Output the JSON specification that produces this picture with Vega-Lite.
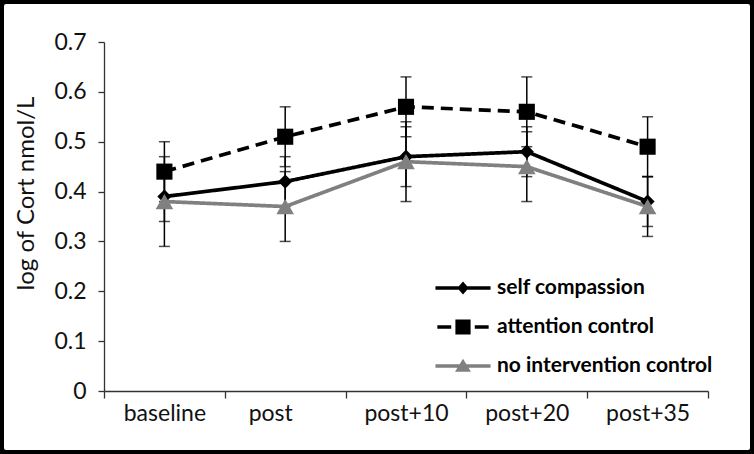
{
  "$schema": "https://vega.github.io/schema/vega-lite/v6.json",
  "width": 754,
  "height": 454,
  "padding": 0,
  "autosize": {"type": "none"},
  "background": "white",
  "config": {
    "view": {"stroke": "black", "strokeWidth": 8, "cornerRadius": 6, "fill": "white"},
    "font": "Lato",
    "axisX": {
      "offset": -63,
      "tickBand": "extent",
      "tickSize": 7,
      "tickWidth": 1.3,
      "tickColor": "#333333",
      "domainColor": "#333333",
      "domainWidth": 1.3,
      "labelFontSize": 23,
      "labelColor": "#111111",
      "labelPadding": 4,
      "labelAngle": 0,
      "grid": false,
      "title": null
    },
    "axisY": {
      "offset": -104,
      "tickSize": 6,
      "tickWidth": 1.3,
      "tickColor": "#333333",
      "domainColor": "#333333",
      "domainWidth": 1.3,
      "labelFontSize": 23,
      "labelColor": "#111111",
      "labelPadding": 12,
      "grid": false,
      "titleFontSize": 24,
      "titleFontWeight": "normal",
      "titleColor": "#111111",
      "titlePadding": 15
    },
    "legend": {
      "orient": "none",
      "legendX": 444,
      "legendY": 269,
      "padding": 0,
      "rowPadding": 10,
      "symbolSize": 1444,
      "symbolStrokeWidth": 0,
      "symbolOpacity": 1,
      "labelFontSize": 21,
      "labelFontWeight": "bold",
      "labelColor": "black",
      "labelOffset": 15,
      "labelLimit": 400
    }
  },
  "data": {
    "values": [
      {"series": "self compassion", "time": "baseline", "mean": 0.39, "low": 0.34, "high": 0.44},
      {"series": "self compassion", "time": "post", "mean": 0.42, "low": 0.37, "high": 0.47},
      {"series": "self compassion", "time": "post+10", "mean": 0.47, "low": 0.41, "high": 0.53},
      {"series": "self compassion", "time": "post+20", "mean": 0.48, "low": 0.43, "high": 0.53},
      {"series": "self compassion", "time": "post+35", "mean": 0.38, "low": 0.33, "high": 0.43},
      {"series": "attention control", "time": "baseline", "mean": 0.44, "low": 0.38, "high": 0.50},
      {"series": "attention control", "time": "post", "mean": 0.51, "low": 0.45, "high": 0.57},
      {"series": "attention control", "time": "post+10", "mean": 0.57, "low": 0.51, "high": 0.63},
      {"series": "attention control", "time": "post+20", "mean": 0.56, "low": 0.49, "high": 0.63},
      {"series": "attention control", "time": "post+35", "mean": 0.49, "low": 0.43, "high": 0.55},
      {"series": "no intervention control", "time": "baseline", "mean": 0.38, "low": 0.29, "high": 0.47},
      {"series": "no intervention control", "time": "post", "mean": 0.37, "low": 0.30, "high": 0.44},
      {"series": "no intervention control", "time": "post+10", "mean": 0.46, "low": 0.38, "high": 0.54},
      {"series": "no intervention control", "time": "post+20", "mean": 0.45, "low": 0.38, "high": 0.52},
      {"series": "no intervention control", "time": "post+35", "mean": 0.37, "low": 0.31, "high": 0.43}
    ]
  },
  "encoding": {
    "x": {
      "field": "time",
      "type": "nominal",
      "sort": ["baseline", "post", "post+10", "post+20", "post+35"],
      "scale": {"type": "band", "range": [104, 708], "paddingInner": 0, "paddingOuter": 0},
      "axis": {"labelOffset": {"condition": {"test": "datum.value == 'post'", "value": -15}, "value": 0}},
      "title": null
    }
  },
  "layer": [
    {
      "mark": {"type": "rule", "color": "black", "strokeWidth": 1.5},
      "encoding": {
        "y": {
          "field": "low", "type": "quantitative",
          "scale": {"domain": [0, 0.7], "range": [391, 42], "nice": false, "zero": false},
          "title": "log of Cort nmol/L",
          "axis": {"values": [0, 0.1, 0.2, 0.3, 0.4, 0.5, 0.6, 0.7], "format": "~g", "titleY": 193}
        },
        "y2": {"field": "high"}
      }
    },
    {
      "mark": {"type": "tick", "color": "black", "size": 11, "thickness": 1.5},
      "encoding": {
        "y": {"field": "low", "type": "quantitative", "title": "log of Cort nmol/L"}
      }
    },
    {
      "mark": {"type": "tick", "color": "black", "size": 11, "thickness": 1.5},
      "encoding": {
        "y": {"field": "high", "type": "quantitative", "title": "log of Cort nmol/L"}
      }
    },
    {
      "mark": {"type": "line", "strokeWidth": 3.7},
      "encoding": {
        "y": {"field": "mean", "type": "quantitative", "title": "log of Cort nmol/L"},
        "stroke": {"field": "series", "type": "nominal", "scale": {"domain": ["self compassion", "attention control", "no intervention control"], "range": ["#000000", "#000000", "#808080"]}, "legend": null},
        "strokeDash": {"field": "series", "type": "nominal", "scale": {"domain": ["self compassion", "attention control", "no intervention control"], "range": [[1, 0], [12, 7], [1, 0]]}, "legend": null}
      }
    },
    {
      "transform": [{"filter": "datum.series == 'self compassion'"}],
      "mark": {"type": "point", "filled": true, "opacity": 1, "strokeWidth": 0, "shape": "diamond", "size": 200, "color": "#000000"},
      "encoding": {
        "y": {"field": "mean", "type": "quantitative", "title": "log of Cort nmol/L"}
      }
    },
    {
      "transform": [{"filter": "datum.series == 'attention control'"}],
      "mark": {"type": "point", "filled": true, "opacity": 1, "strokeWidth": 0, "shape": "square", "size": 260, "color": "#000000"},
      "encoding": {
        "y": {"field": "mean", "type": "quantitative", "title": "log of Cort nmol/L"}
      }
    },
    {
      "transform": [{"filter": "datum.series == 'no intervention control'"}],
      "mark": {"type": "point", "filled": true, "opacity": 1, "strokeWidth": 0, "shape": "triangle-up", "size": 310, "color": "#808080"},
      "encoding": {
        "y": {"field": "mean", "type": "quantitative", "title": "log of Cort nmol/L"}
      }
    },
    {
      "mark": {"type": "point", "filled": true, "opacity": 0},
      "encoding": {
        "y": {"field": "mean", "type": "quantitative", "title": "log of Cort nmol/L"},
        "color": {"field": "series", "type": "nominal", "scale": {"domain": ["self compassion", "attention control", "no intervention control"], "range": ["#000000", "#000000", "#808080"]}, "legend": {"title": null}},
        "shape": {"field": "series", "type": "nominal", "scale": {"domain": ["self compassion", "attention control", "no intervention control"], "range": [
          "M-1.45,-0.09L1.45,-0.09L1.45,0.09L-1.45,0.09Z M0,-0.34L0.3,0L0,0.34L-0.3,0Z",
          "M-1.35,-0.09L-0.62,-0.09L-0.62,0.09L-1.35,0.09Z M0.62,-0.09L1.35,-0.09L1.35,0.09L0.62,0.09Z M-0.4,-0.4L0.4,-0.4L0.4,0.4L-0.4,0.4Z",
          "M-1.45,-0.09L1.45,-0.09L1.45,0.09L-1.45,0.09Z M0,-0.38L0.42,0.3L-0.42,0.3Z"
        ]}, "legend": {"title": null}}
      }
    }
  ],
  "resolve": {"scale": {"color": "independent", "shape": "independent"}}
}
